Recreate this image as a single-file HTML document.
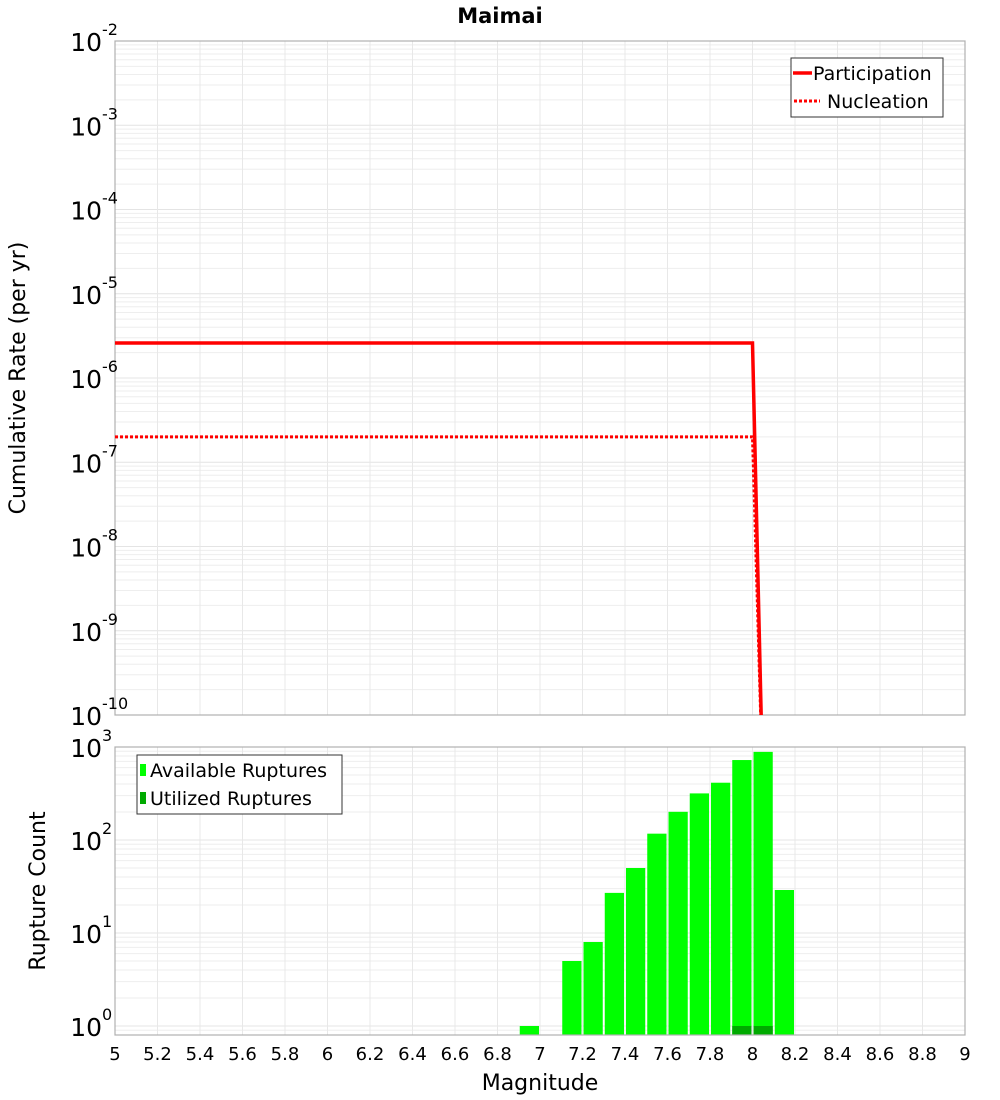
<!DOCTYPE html>
<html><head><meta charset="utf-8"><style>
html,body{margin:0;padding:0;background:#fff;}
svg{display:block;font-family:"DejaVu Sans","Liberation Sans",sans-serif;}
</style></head><body>
<svg id="c" width="1000" height="1100" xmlns="http://www.w3.org/2000/svg"></svg>
<script>
// data
const magTicks=[5,5.2,5.4,5.6,5.8,6,6.2,6.4,6.6,6.8,7,7.2,7.4,7.6,7.8,8,8.2,8.4,8.6,8.8,9];
const magTickLabels=["5","5.2","5.4","5.6","5.8","6","6.2","6.4","6.6","6.8","7","7.2","7.4","7.6","7.8","8","8.2","8.4","8.6","8.8","9"];
const rateExps=[-2,-3,-4,-5,-6,-7,-8,-9,-10];
const countExps=[3,2,1,0];
const partMags=[5.0,8.0,8.05];
const partRates=[2.6e-6,2.6e-6,1e-11];
const nuclMags=[5.0,8.0,8.05];
const nuclRates=[2.0e-7,2.0e-7,1e-11];
const binStarts=[6.9,7.1,7.2,7.3,7.4,7.5,7.6,7.7,7.8,7.9,8.0,8.1];
const availCounts=[1,5.0,8,27,50,117,201,317,413,724,886,29];
const utilStarts=[7.9,8.0];
const utilCounts=[1,1];

const NS="http://www.w3.org/2000/svg";
const svg=document.getElementById('c');
function el(tag,attrs,parent,text){const e=document.createElementNS(NS,tag);for(const k in attrs)e.setAttribute(k,attrs[k]);if(text!==undefined)e.textContent=text;(parent||svg).appendChild(e);return e;}
const X0=115,X1=965;
const xs=m=>X0+(m-5)/4*(X1-X0);
const T0=41,T1=715; const yTop=v=>T0+(-2-Math.log10(v))*(T1-T0)/8;
const B0=747,BONE=1026,B1=1035; const yBot=v=>BONE-Math.log10(v)*(BONE-B0)/3;

function grid(top,bottom,yf,lo,hi,g){
  for(let e=lo;e<hi;e++)for(let k=1;k<10;k++){const y=yf(k*Math.pow(10,e));if(y<top-0.5||y>bottom+0.5)continue;
    const l=el('line',{x1:X0,x2:X1,y1:y,y2:y,stroke:k==1?'#e4e4e4':'#eeeeee','stroke-width':1},g);
    }
  magTicks.forEach(m=>{const l=el('line',{x1:xs(m),x2:xs(m),y1:top,y2:bottom,stroke:'#e8e8e8','stroke-width':1},g);
    });
}
el('text',{x:500,y:23,'text-anchor':'middle','font-size':21,'font-weight':'bold',},svg,'Maimai');

// top panel
const gt=el('g',{});
el('rect',{x:X0,y:T0,width:X1-X0,height:T1-T0,fill:'#fff'},gt);
grid(T0,T1,yTop,-10,-1,gt);
el('rect',{x:X0,y:T0,width:X1-X0,height:T1-T0,fill:'none',stroke:'#b0b0b0','stroke-width':1.2,},gt);
function lineSeries(mags,vals,attrs,name){
  const d=mags.map((m,i)=>(i?'L':'M')+xs(m).toFixed(2)+','+yTop(vals[i]).toFixed(2)).join(' ');
  const p=el('path',Object.assign({d:d,fill:'none','clip-path':'url(#clipTop)'},attrs),gt);
  
}
const defs=el('defs',{});const cp=el('clipPath',{id:'clipTop'},defs);el('rect',{x:X0,y:T0,width:X1-X0,height:T1-T0},cp);
lineSeries(nuclMags,nuclRates,{stroke:'#ff0000','stroke-width':3,'stroke-dasharray':'3,2'},'nucleation-line');
lineSeries(partMags,partRates,{stroke:'#ff0000','stroke-width':3.5},'participation-line');
rateExps.forEach(e=>{const y=yTop(Math.pow(10,e));
  const t=el('text',{x:102,y:y+10,'text-anchor':'end','font-size':25},svg,'10');
  const s=el('text',{x:102,y:y-6,'font-size':16},svg,String(e));});
el('text',{transform:'translate(25,378) rotate(-90)','text-anchor':'middle','font-size':22,},svg,'Cumulative Rate (per yr)');
const lg=el('g',{});
el('rect',{x:791,y:58,width:152,height:59,fill:'#fff',stroke:'#333','stroke-width':1},lg);
el('line',{x1:793,x2:812,y1:73,y2:73,stroke:'#f00','stroke-width':3.5},lg);
el('text',{x:813,y:80,'font-size':19,},lg,'Participation');
el('line',{x1:794,x2:820,y1:101,y2:101,stroke:'#f00','stroke-width':3,'stroke-dasharray':'3,2'},lg);
el('text',{x:827,y:108,'font-size':19,},lg,'Nucleation');

// bottom panel
const gb=el('g',{});
el('rect',{x:X0,y:B0,width:X1-X0,height:B1-B0,fill:'#fff'},gb);
grid(B0,B1,yBot,-1,3,gb);
binStarts.forEach((m,i)=>{const y=yBot(availCounts[i]);
  const r=el('rect',{x:xs(m)+1,y:y,width:xs(m+0.1)-xs(m)-2,height:B1-y,fill:'#00ff00'},gb);
  });
utilStarts.forEach((m,i)=>{const y=yBot(utilCounts[i]);
  const r=el('rect',{x:xs(m)+1,y:y,width:xs(m+0.1)-xs(m)-2,height:B1-y,fill:'#00aa00'},gb);
  });
el('rect',{x:X0,y:B0,width:X1-X0,height:B1-B0,fill:'none',stroke:'#b0b0b0','stroke-width':1.2,},gb);
countExps.forEach(e=>{const y=yBot(Math.pow(10,e));
  const t=el('text',{x:102,y:y+10,'text-anchor':'end','font-size':25},svg,'10');
  const s=el('text',{x:102,y:y-6,'font-size':16},svg,String(e));});
el('text',{transform:'translate(45,891) rotate(-90)','text-anchor':'middle','font-size':22,},svg,'Rupture Count');
const lg2=el('g',{});
el('rect',{x:137,y:755,width:205,height:59,fill:'#fff',stroke:'#333','stroke-width':1},lg2);
el('rect',{x:140,y:764,width:6,height:12,fill:'#00ff00'},lg2);
el('text',{x:150,y:777,'font-size':19,},lg2,'Available Ruptures');
el('rect',{x:140,y:792,width:6,height:12,fill:'#00aa00'},lg2);
el('text',{x:150,y:805,'font-size':19,},lg2,'Utilized Ruptures');
magTicks.forEach((m,i)=>{const t=el('text',{x:xs(m),y:1060,'text-anchor':'middle','font-size':18},svg,magTickLabels[i]);
  });
el('text',{x:540,y:1090,'text-anchor':'middle','font-size':22,},svg,'Magnitude');
</script>
</body></html>
